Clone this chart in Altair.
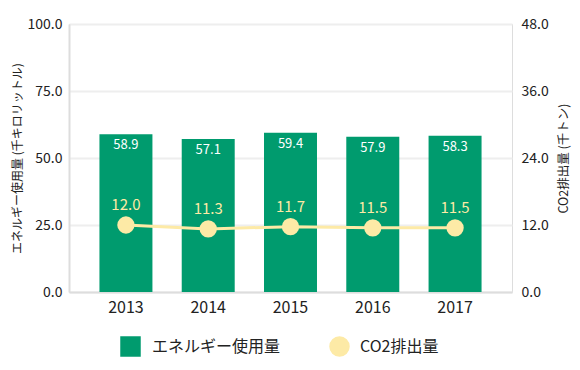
import altair as alt
import pandas as pd

years = ["2013", "2014", "2015", "2016", "2017"]
energy = [58.9, 57.1, 59.4, 57.9, 58.3]
co2 = [12.0, 11.3, 11.7, 11.5, 11.5]
energy_name = "エネルギー使用量"
co2_name = "CO2排出量"
left_ticks = [0, 25, 50, 75, 100]
right_ticks = [0, 12, 24, 36, 48]

GREEN = "#009B6E"
YELLOW = "#FDEAA6"
FONT = "Noto Sans CJK JP"

df = pd.DataFrame({"year": years, "energy": energy, "co2": co2,
                   "s1": energy_name, "s2": co2_name})

base = alt.Chart(df)
xenc = alt.X("year:N", title=None,
             scale=alt.Scale(paddingInner=0.356, paddingOuter=0.37),
             axis=alt.Axis(labelAngle=0, ticks=False, labelFontSize=16, labelPadding=7,
                           labelColor="#222", domainColor="#DDDDDD", domainWidth=2,
                           labelFont=FONT))

yleft = alt.Y("energy:Q", scale=alt.Scale(domain=[0, 100], nice=False),
              axis=alt.Axis(title="エネルギー使用量 (千キロリットル)", values=left_ticks, format=".1f",
                            ticks=False, labelFontSize=14, labelPadding=7, labelColor="#222",
                            domainColor="#DDDDDD", domainWidth=2, gridColor="#EEEEEE", gridWidth=2,
                            titleFontSize=12, titleFontWeight="normal", titleColor="#222",
                            titlePadding=3, titleFont=FONT, labelFont=FONT))

bars = base.mark_bar().encode(
    x=xenc, y=yleft,
    color=alt.Color("s1:N", scale=alt.Scale(domain=[energy_name], range=[GREEN]),
                    legend=alt.Legend(orient="none", legendX=51, legendY=312, title=None,
                                      symbolType="square", symbolSize=420, symbolStrokeWidth=0,
                                      symbolOpacity=1, labelFontSize=16, labelOffset=11,
                                      labelFont=FONT, labelColor="#222", padding=0)))
bar_text = base.mark_text(color="white", fontSize=13, baseline="top", dy=5, font=FONT).encode(
    x=xenc, y=yleft, text=alt.Text("energy:Q", format=".1f"))

yright = alt.Y("co2:Q", scale=alt.Scale(domain=[0, 48], nice=False),
               axis=alt.Axis(title="CO2排出量 (千トン)", orient="right", values=right_ticks, format=".1f",
                             ticks=False, grid=False, domain=False, labelFontSize=14, labelPadding=9,
                             labelColor="#222", titleFontSize=12.5, titleFontWeight="normal",
                             titleColor="#222", titlePadding=9, titleAngle=270, titleBaseline="top",
                             titleFont=FONT, labelFont=FONT))

line = base.mark_line(color=YELLOW, strokeWidth=3).encode(x=xenc, y=yright)
points = base.mark_circle(size=300, opacity=1).encode(
    x=xenc, y=yright,
    color=alt.Color("s2:N", scale=alt.Scale(domain=[co2_name], range=[YELLOW]),
                    legend=alt.Legend(orient="none", legendX=260, legendY=312, title=None,
                                      symbolType="circle", symbolSize=420, symbolStrokeWidth=0,
                                      symbolOpacity=1, labelFontSize=16, labelOffset=10,
                                      labelFont=FONT, labelColor="#222", padding=0)))
pt_text = base.mark_text(color=YELLOW, fontSize=15, baseline="middle", dy=-20, font=FONT).encode(
    x=xenc, y=yright, text=alt.Text("co2:Q", format=".1f"))

left = alt.layer(bars, bar_text)
right = alt.layer(line, points, pt_text)

chart = alt.layer(left, right).resolve_scale(y="independent", color="independent").properties(
    width=443, height=268,
    autosize=alt.AutoSizeParams(type="none"),
    padding={"left": 61, "top": 16, "right": 60, "bottom": 70},
).configure_view(stroke=None).configure(font=FONT)

chart.save("out.html", embed_options={"renderer": "svg", "actions": False})
